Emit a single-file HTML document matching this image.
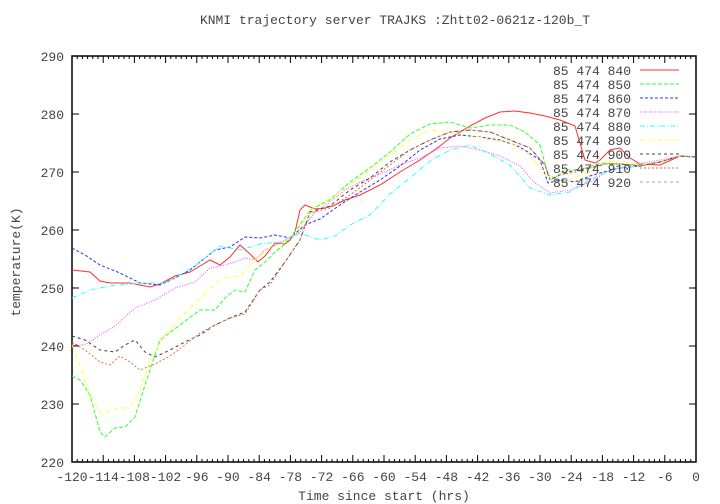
<!DOCTYPE html>
<html><head><style>body{margin:0;background:#fff}svg{display:block}text{font-family:"Liberation Mono",monospace;fill:#444;font-size:13px}</style></head><body>
<svg width="720" height="504" xmlns="http://www.w3.org/2000/svg">
<text x="395" y="24" text-anchor="middle">KNMI trajectory server TRAJKS :Zhtt02-0621z-120b_T</text>
<text x="384" y="500" text-anchor="middle">Time since start (hrs)</text>
<text transform="translate(20,262) rotate(-90)" text-anchor="middle">temperature(K)</text>
<g stroke="#000" stroke-width="1" fill="none">
<rect x="72" y="56" width="624" height="406" stroke-width="1.5"/>
<path d="M72 462v-7M72 56v7M77.2 462v-3M77.2 56v3M82.4 462v-3M82.4 56v3M87.6 462v-3M87.6 56v3M92.8 462v-3M92.8 56v3M98 462v-3M98 56v3M103.2 462v-7M103.2 56v7M108.4 462v-3M108.4 56v3M113.6 462v-3M113.6 56v3M118.8 462v-3M118.8 56v3M124 462v-3M124 56v3M129.2 462v-3M129.2 56v3M134.4 462v-7M134.4 56v7M139.6 462v-3M139.6 56v3M144.8 462v-3M144.8 56v3M150 462v-3M150 56v3M155.2 462v-3M155.2 56v3M160.4 462v-3M160.4 56v3M165.6 462v-7M165.6 56v7M170.8 462v-3M170.8 56v3M176 462v-3M176 56v3M181.2 462v-3M181.2 56v3M186.4 462v-3M186.4 56v3M191.6 462v-3M191.6 56v3M196.8 462v-7M196.8 56v7M202 462v-3M202 56v3M207.2 462v-3M207.2 56v3M212.4 462v-3M212.4 56v3M217.6 462v-3M217.6 56v3M222.8 462v-3M222.8 56v3M228 462v-7M228 56v7M233.2 462v-3M233.2 56v3M238.4 462v-3M238.4 56v3M243.6 462v-3M243.6 56v3M248.8 462v-3M248.8 56v3M254 462v-3M254 56v3M259.2 462v-7M259.2 56v7M264.4 462v-3M264.4 56v3M269.6 462v-3M269.6 56v3M274.8 462v-3M274.8 56v3M280 462v-3M280 56v3M285.2 462v-3M285.2 56v3M290.4 462v-7M290.4 56v7M295.6 462v-3M295.6 56v3M300.8 462v-3M300.8 56v3M306 462v-3M306 56v3M311.2 462v-3M311.2 56v3M316.4 462v-3M316.4 56v3M321.6 462v-7M321.6 56v7M326.8 462v-3M326.8 56v3M332 462v-3M332 56v3M337.2 462v-3M337.2 56v3M342.4 462v-3M342.4 56v3M347.6 462v-3M347.6 56v3M352.8 462v-7M352.8 56v7M358 462v-3M358 56v3M363.2 462v-3M363.2 56v3M368.4 462v-3M368.4 56v3M373.6 462v-3M373.6 56v3M378.8 462v-3M378.8 56v3M384 462v-7M384 56v7M389.2 462v-3M389.2 56v3M394.4 462v-3M394.4 56v3M399.6 462v-3M399.6 56v3M404.8 462v-3M404.8 56v3M410 462v-3M410 56v3M415.2 462v-7M415.2 56v7M420.4 462v-3M420.4 56v3M425.6 462v-3M425.6 56v3M430.8 462v-3M430.8 56v3M436 462v-3M436 56v3M441.2 462v-3M441.2 56v3M446.4 462v-7M446.4 56v7M451.6 462v-3M451.6 56v3M456.8 462v-3M456.8 56v3M462 462v-3M462 56v3M467.2 462v-3M467.2 56v3M472.4 462v-3M472.4 56v3M477.6 462v-7M477.6 56v7M482.8 462v-3M482.8 56v3M488 462v-3M488 56v3M493.2 462v-3M493.2 56v3M498.4 462v-3M498.4 56v3M503.6 462v-3M503.6 56v3M508.8 462v-7M508.8 56v7M514 462v-3M514 56v3M519.2 462v-3M519.2 56v3M524.4 462v-3M524.4 56v3M529.6 462v-3M529.6 56v3M534.8 462v-3M534.8 56v3M540 462v-7M540 56v7M545.2 462v-3M545.2 56v3M550.4 462v-3M550.4 56v3M555.6 462v-3M555.6 56v3M560.8 462v-3M560.8 56v3M566 462v-3M566 56v3M571.2 462v-7M571.2 56v7M576.4 462v-3M576.4 56v3M581.6 462v-3M581.6 56v3M586.8 462v-3M586.8 56v3M592 462v-3M592 56v3M597.2 462v-3M597.2 56v3M602.4 462v-7M602.4 56v7M607.6 462v-3M607.6 56v3M612.8 462v-3M612.8 56v3M618 462v-3M618 56v3M623.2 462v-3M623.2 56v3M628.4 462v-3M628.4 56v3M633.6 462v-7M633.6 56v7M638.8 462v-3M638.8 56v3M644 462v-3M644 56v3M649.2 462v-3M649.2 56v3M654.4 462v-3M654.4 56v3M659.6 462v-3M659.6 56v3M664.8 462v-7M664.8 56v7M670 462v-3M670 56v3M675.2 462v-3M675.2 56v3M680.4 462v-3M680.4 56v3M685.6 462v-3M685.6 56v3M690.8 462v-3M690.8 56v3M696 462v-7M696 56v7M72 404h7M696 404h-7M72 346h7M696 346h-7M72 288h7M696 288h-7M72 230h7M696 230h-7M72 172h7M696 172h-7M72 114h7M696 114h-7"/>
</g>
<g text-anchor="middle">
<text x="72" y="481">-120</text><text x="103.2" y="481">-114</text><text x="134.4" y="481">-108</text><text x="165.6" y="481">-102</text><text x="196.8" y="481">-96</text><text x="228" y="481">-90</text><text x="259.2" y="481">-84</text><text x="290.4" y="481">-78</text><text x="321.6" y="481">-72</text><text x="352.8" y="481">-66</text><text x="384" y="481">-60</text><text x="415.2" y="481">-54</text><text x="446.4" y="481">-48</text><text x="477.6" y="481">-42</text><text x="508.8" y="481">-36</text><text x="540" y="481">-30</text><text x="571.2" y="481">-24</text><text x="602.4" y="481">-18</text><text x="633.6" y="481">-12</text><text x="664.8" y="481">-6</text><text x="696" y="481">0</text>
</g>
<g text-anchor="end">
<text x="64" y="467">220</text><text x="64" y="409">230</text><text x="64" y="351">240</text><text x="64" y="293">250</text><text x="64" y="235">260</text><text x="64" y="177">270</text><text x="64" y="119">280</text><text x="64" y="61">290</text>
</g>
<g fill="none" stroke-width="1">
<polyline stroke="#ff3030" points="72,270 90,272 100,281 110,283 130,283 150,287 160,284 175,276 190,272 200,266 210,260 220,265 230,257 240,245 250,254 258,262 265,256 275,243 285,244 290,240 295,232 300,210 305,205 315,209 325,208 335,205 345,200 360,195 380,185 400,172 420,160 440,146 450,138 470,126 485,118 500,112 515,111 530,113 545,116 560,120 575,126 585,160 595,163 600,160 610,150 620,148 630,158 640,164 660,165 680,156 696,157"/>
<polyline stroke="#30ff30" stroke-dasharray="4,2" points="72,376 80,380 90,395 100,432 105,437 115,428 125,427 135,417 145,385 160,340 180,325 200,310 215,310 225,298 235,290 245,292 255,270 265,262 275,252 285,244 300,225 310,210 330,200 350,182 370,168 390,152 410,134 430,124 450,122 470,128 490,125 510,125 525,132 540,145 548,175 555,178 565,170 580,170 600,163 620,164 640,165 660,162 680,156 696,157"/>
<polyline stroke="#3030ff" stroke-dasharray="3,2" points="72,248 85,255 100,265 120,273 140,283 160,285 175,278 190,270 200,262 215,250 230,247 245,237 260,238 275,235 290,238 305,225 320,219 340,205 360,192 380,180 400,166 420,150 440,139 460,135 480,137 500,140 520,147 540,160 548,183 560,180 575,182 590,176 600,173 620,168 640,166 660,162 680,156 696,157"/>
<polyline stroke="#ff40ff" stroke-dasharray="1,1.5" points="72,345 85,345 100,335 115,326 135,308 155,300 175,288 195,282 210,268 225,265 235,262 245,258 255,260 265,250 280,243 300,232 315,212 330,202 345,190 365,180 385,172 400,165 420,158 440,148 460,146 480,150 500,156 520,166 535,183 550,193 570,190 590,182 610,170 630,165 650,162 680,156 696,157"/>
<polyline stroke="#30ffff" stroke-dasharray="5,2,1,2" points="72,298 90,290 110,286 130,284 145,283 165,283 180,275 195,266 210,254 220,246 240,250 260,244 280,242 300,233 320,240 335,236 350,225 370,215 390,194 410,178 430,161 450,150 470,145 490,154 510,165 530,188 550,195 570,192 590,180 610,170 630,167 660,162 680,156 696,157"/>
<polyline stroke="#ffff30" stroke-dasharray="4,2,1,2" points="72,345 80,365 90,395 102,415 110,410 120,408 130,408 140,390 150,360 165,335 180,318 200,298 215,284 225,278 240,276 255,260 270,248 285,242 300,228 310,210 330,198 350,185 370,170 390,155 410,140 430,130 450,133 470,135 490,140 510,143 530,155 545,175 560,185 575,178 590,172 605,162 620,162 640,165 660,162 680,156 696,157"/>
<polyline stroke="#404040" stroke-dasharray="3,3" points="72,336 85,340 100,350 115,352 125,345 135,340 145,352 155,357 170,350 185,342 200,335 215,325 230,318 245,312 260,290 270,282 285,262 300,240 310,212 330,206 350,190 370,178 390,162 410,150 430,140 450,132 470,130 490,132 510,140 530,148 545,165 550,180 560,175 575,170 590,168 605,164 620,164 640,166 660,162 680,156 696,157"/>
<polyline stroke="#e07040" stroke-dasharray="2,2" points="72,342 85,350 100,362 110,365 120,356 130,362 140,370 155,364 170,356 185,345 200,333 215,325 230,318 245,314 260,290 270,285 285,262 300,240 310,213 330,208 350,195 370,180 390,165 410,150 430,140 450,132 470,130 490,132 510,140 530,148 545,165 550,180 560,175 575,172 590,168 605,164 620,164 640,166 660,162 680,156 696,157"/>
<line x1="640" y1="70" x2="679" y2="70" stroke="#ff3030"/>
<line x1="640" y1="84" x2="679" y2="84" stroke="#30ff30" stroke-dasharray="4,2"/>
<line x1="640" y1="98" x2="679" y2="98" stroke="#3030ff" stroke-dasharray="3,2"/>
<line x1="640" y1="112" x2="679" y2="112" stroke="#ff40ff" stroke-dasharray="1,1.5"/>
<line x1="640" y1="126" x2="679" y2="126" stroke="#30ffff" stroke-dasharray="5,2,1,2"/>
<line x1="640" y1="140" x2="679" y2="140" stroke="#ffff30" stroke-dasharray="4,2,1,2"/>
<line x1="640" y1="154" x2="679" y2="154" stroke="#404040" stroke-dasharray="3,3"/>
<line x1="640" y1="168" x2="679" y2="168" stroke="#e07040" stroke-dasharray="2,2"/>
<line x1="640" y1="182" x2="679" y2="182" stroke="#a0a0a0" stroke-dasharray="3,3"/>
</g>
<g text-anchor="end">
<text x="631" y="75">85 474 840</text><text x="631" y="89">85 474 850</text><text x="631" y="103">85 474 860</text>
<text x="631" y="117">85 474 870</text><text x="631" y="131">85 474 880</text><text x="631" y="145">85 474 890</text>
<text x="631" y="159">85 474 900</text><text x="631" y="173">85 474 910</text><text x="631" y="187">85 474 920</text>
</g>
</svg></body></html>
